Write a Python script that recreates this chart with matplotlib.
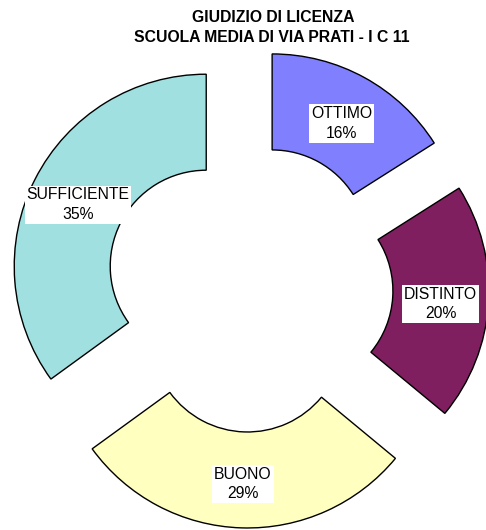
import math
import matplotlib
matplotlib.use("Agg")
import matplotlib.pyplot as plt

categories = ["OTTIMO", "DISTINTO", "BUONO", "SUFFICIENTE"]
percentages = [16, 20, 29, 35]
colors = ["#8080FF", "#801F60", "#FFFFC0", "#A0E0E0"]
title_lines = ["GIUDIZIO DI LICENZA", "SCUOLA MEDIA DI VIA PRATI - I C 11"]

plt.rcParams['font.family'] = ['Liberation Sans', 'DejaVu Sans']

W, H = 486, 530
fig = plt.figure(figsize=(W / 100, H / 100), dpi=100)
ax = fig.add_axes([0, 0, 1, 1])

R = 192
ring = 96
explode_dist = 48
center = (249, H - 288)

wedges = ax.pie(
    percentages, colors=colors, startangle=90, counterclock=False,
    radius=R, center=center, explode=[explode_dist] * len(percentages),
    wedgeprops=dict(width=ring, edgecolor='black', linewidth=1.0),
    frame=True,
)[0]
ax.set_xlim(0, W)
ax.set_ylim(0, H)
ax.set_aspect('equal')
ax.axis('off')

for w, cat, p in zip(wedges, categories, percentages):
    cx, cy = w.center
    tm = math.radians((w.theta1 + w.theta2) / 2)
    rm = R - ring / 2
    ax.text(cx + rm * math.cos(tm), cy + rm * math.sin(tm) - 4, f"{cat}\n{p}%",
            ha='center', va='center', fontsize=11.3, color='black',
            linespacing=1.4,
            bbox=dict(boxstyle='square,pad=0.12', fc='white', ec='none'))

fig.text(273 / W, 1 - 17 / H, title_lines[0], ha='center', va='center',
         fontsize=11.3, fontweight='bold')
fig.text(272 / W, 1 - 38 / H, title_lines[1], ha='center', va='center',
         fontsize=11.3, fontweight='bold')

fig.savefig("out.png", dpi=100, facecolor='white')
